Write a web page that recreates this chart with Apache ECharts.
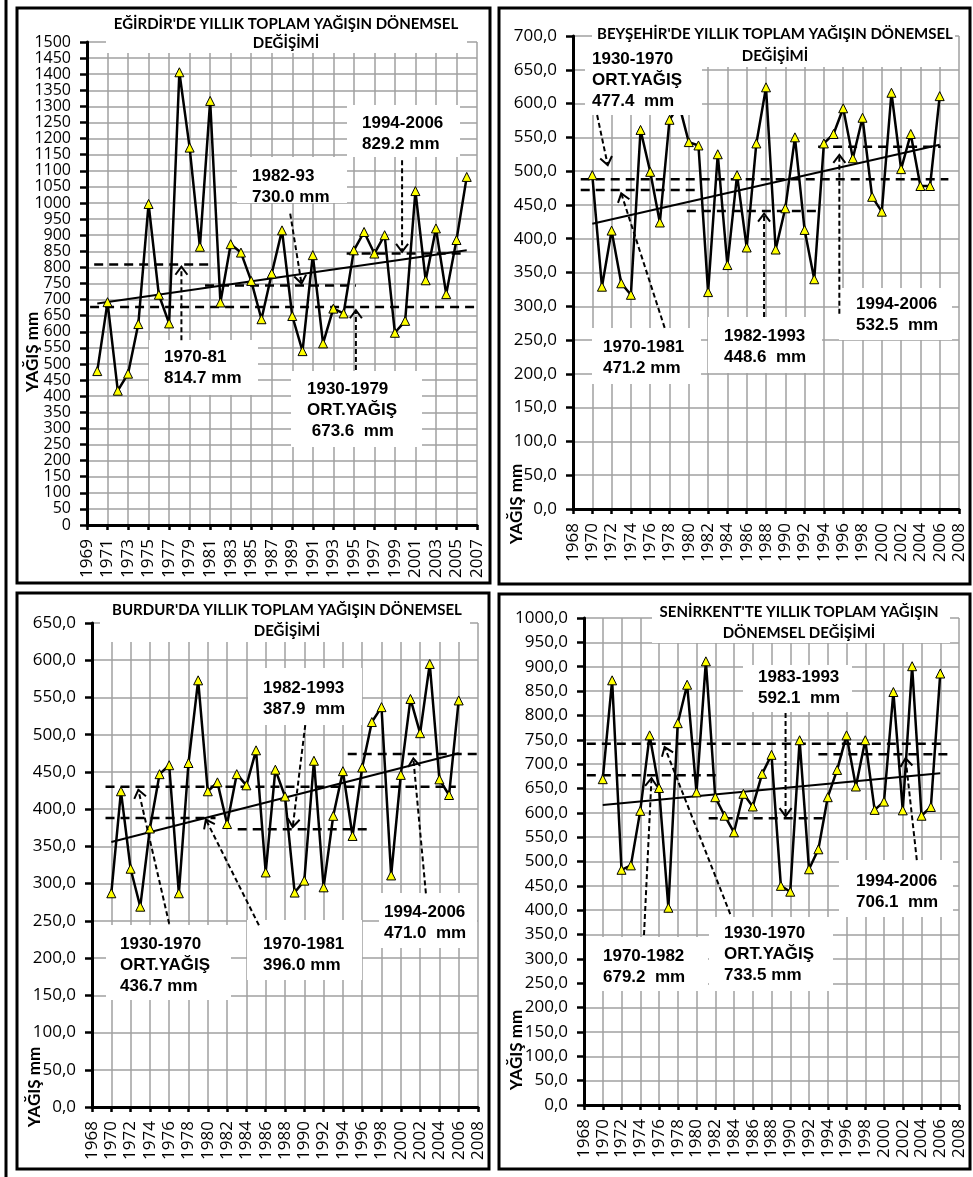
<!DOCTYPE html>
<html><head><meta charset="utf-8">
<script src="https://cdn.jsdelivr.net/npm/echarts@6/dist/echarts.min.js"></script>
<style>html,body{margin:0;padding:0;background:#fff}#c{width:973px;height:1177px}</style>
</head><body><div id="c"></div>
<script>
// ---------------- DATA ----------------
const years = [1970,1971,1972,1973,1974,1975,1976,1977,1978,1979,1980,1981,1982,1983,1984,1985,1986,1987,1988,1989,1990,1991,1992,1993,1994,1995,1996,1997,1998,1999,2000,2001,2002,2003,2004,2005,2006];

const egirdirValues = [478,692,417,470,624,997,715,626,1406,1172,864,1317,691,872,846,758,639,781,915,649,540,838,564,672,657,853,910,843,900,597,634,1037,760,921,717,885,1081];
const beysehirValues = [494,329,412,334,317,561,499,424,576,598,543,538,321,525,361,494,387,541,624,384,445,550,413,340,541,555,593,519,579,462,440,616,503,555,478,478,611];
const burdurValues = [287,424,320,269,374,447,459,287,462,573,424,436,380,447,432,479,315,453,417,288,304,465,295,391,451,364,456,517,537,311,446,548,502,595,440,419,546];
const senirkentValues = [669,872,483,492,604,759,651,405,784,863,642,911,632,594,560,639,613,680,719,450,438,749,484,525,632,688,759,654,749,606,623,848,605,901,594,612,886];

// trend lines [year, value] at both ends
const egirdirTrend = [[1970,688],[2006,853]];
const beysehirTrend = [[1970,422],[2006,539]];
const burdurTrend = [[1970,356],[2006,475]];
const senirkentTrend = [[1970,616],[2006,681]];

// period mean dashed lines: [fromYear, toYear, level]
const egirdirMeans = [[1969.3,2007,677],[1969.7,1981.4,809],[1980.5,1995.2,744],[1994.3,2005.9,843]];
const beysehirMeans = [[1968.8,2006.9,488],[1968.8,1980.8,472],[1979.8,1993.4,441],[1993.4,2006.1,536]];
const burdurMeans = [[1969.4,2005.7,430],[1969.4,1980.8,388],[1983.1,1996.7,373],[1994.5,2008,474]];
const senirkentMeans = [[1968.3,2006.7,742],[1968.3,1982.3,677],[1981.3,1994.1,589],[1993,2007.1,720]];

// annotation arrows: [tailYear, tailValue, headYear, headValue]
const egirdirArrows = [[1978.2,574,1978.2,802],[1988.8,967,1989.9,750],[1999.7,1133,1999.7,848],[1995.2,481,1995.2,667]];
const beysehirArrows = [[1970.5,583,1971.6,509],[1977.5,268,1973.0,467],[1987.8,284,1987.8,437],[1995.6,289,1995.6,524]];
const burdurArrows = [[1976.0,246,1972.8,426],[1985.3,244,1979.8,386],[1990.1,513,1988.8,376],[2002.6,287,2001.3,468]];
const senirkentArrows = [[1974.4,349,1975.2,671],[1983.6,392,1976.6,735],[1989.5,805,1989.5,593],[2003.5,503,2002.3,712]];

// texts
const titles = [
  ["EĞİRDİR'DE YILLIK TOPLAM YAĞIŞIN DÖNEMSEL","DEĞİŞİMİ"],
  ["BEYŞEHİR'DE YILLIK TOPLAM YAĞIŞIN DÖNEMSEL","DEĞİŞİMİ"],
  ["BURDUR'DA YILLIK TOPLAM YAĞIŞIN DÖNEMSEL","DEĞİŞİMİ"],
  ["SENİRKENT'TE YILLIK TOPLAM YAĞIŞIN","DÖNEMSEL DEĞİŞİMİ"]
];
const yAxisName = "YAĞIŞ mm";
const egirdirNotes = [["1994-2006","829.2 mm"],["1982-93","730.0 mm"],["1970-81","814.7 mm"],["1930-1979","ORT.YAĞIŞ"," 673.6  mm"]];
const beysehirNotes = [["1930-1970","ORT.YAĞIŞ","477.4  mm"],["1970-1981","471.2 mm"],["1982-1993","448.6  mm"],["1994-2006","532.5  mm"]];
const burdurNotes = [["1930-1970","ORT.YAĞIŞ","436.7 mm"],["1970-1981","396.0 mm"],["1982-1993","387.9  mm"],["1994-2006","471.0  mm"]];
const senirkentNotes = [["1983-1993","592.1  mm"],["1994-2006","706.1  mm"],["1970-1982","679.2  mm"],["1930-1970","ORT.YAĞIŞ","733.5 mm"]];

// ---------------- LAYOUT ----------------
const grids = [
  {left:87, top:42, width:390, height:483},
  {left:573, top:36, width:386, height:473},
  {left:92, top:623, width:386, height:484},
  {left:584, top:618, width:375, height:487}
];
const xExt = [[1969,2007],[1968,2008],[1968,2008],[1968,2008]];
const yExt = [[0,1500],[0,700],[0,650],[0,1000]];
const yLabelSize = [16,17,17,17];
const panelRects = [[17,8,473,575],[499,8,471,576],[17,593,472,576],[499,594,471,575]];
const titleBoxes = [[106,12,361,41],[592,22,363,45],[100,599,370,43],[652,600,298,43]];
const titleCenters = [[286,24,43],[775,34,56],[287,610,631],[799,612,633]];
const axisNamePos = [[33,352],[517,504],[35,1087],[517,1050]];
// note boxes: [x,y,w,h,textX,firstLineY]
const noteBoxes = [
  [[347,105,113,52,362,123],[237,157,110,46,252,176],[149,340,109,55,164,357],[291,371,131,76,307,389]],
  [[585,45,117,70,592,59],[592,328,109,56,603,347],[708,317,114,56,724,336],[839,288,113,52,856,304]],
  [[106,925,125,75,120,944],[247,920,115,60,263,944],[248,668,114,57,263,688],[379,893,98,55,384,912]],
  [[743,665,109,47,758,677],[839,860,114,57,856,881],[586,937,122,54,603,956],[709,917,124,74,724,933]]
];

const allValues = [egirdirValues, beysehirValues, burdurValues, senirkentValues];
const allTrends = [egirdirTrend, beysehirTrend, burdurTrend, senirkentTrend];
const allMeans = [egirdirMeans, beysehirMeans, burdurMeans, senirkentMeans];
const allArrows = [egirdirArrows, beysehirArrows, burdurArrows, senirkentArrows];
const allNotes = [egirdirNotes, beysehirNotes, burdurNotes, senirkentNotes];

const AXIS_FONT = 'Open Sans';
const GRID_COLOR = '#a0a0a0';

const chart = echarts.init(document.getElementById('c'), null, {renderer:'canvas'});

const xAxes = [], yAxes = [], series = [];
for (let i = 0; i < 4; i++) {
  xAxes.push({
    gridIndex:i, type:'value', min:xExt[i][0], max:xExt[i][1], interval:2,
    axisLine:{lineStyle:{color:'#000', width:3}},
    axisTick:{show:true, length:5, lineStyle:{color:'#000', width:2.5}},
    axisLabel:{rotate:90, margin:14, color:'#000', fontFamily:AXIS_FONT, fontSize:17,
      showMinLabel:true, showMaxLabel:true, hideOverlap:false, formatter:v=>String(v)},
    splitLine:{show:true, lineStyle:{color:GRID_COLOR, width:1.5}}
  });
  yAxes.push({
    gridIndex:i, type:'value', min:yExt[i][0], max:yExt[i][1], interval:50,
    axisLine:{show:true, lineStyle:{color:'#000', width:3}},
    axisTick:{show:true, length:7, lineStyle:{color:'#000', width:2.5}},
    axisLabel:{margin:16, color:'#000', fontFamily:AXIS_FONT, fontSize:yLabelSize[i], lineHeight:14,
      showMinLabel:true, showMaxLabel:true, hideOverlap:false,
      formatter: i === 0 ? (v=>String(v)) : (v=>v.toFixed(1).replace('.', ','))},
    splitLine:{show:true, lineStyle:{color:GRID_COLOR, width:1.5}}
  });
  series.push({
    type:'line', xAxisIndex:i, yAxisIndex:i, z:4,
    data: years.map((y,k)=>[y, allValues[i][k]]),
    symbol:'triangle', symbolSize:9,
    itemStyle:{color:'#ffff00', borderColor:'#000', borderWidth:1},
    lineStyle:{color:'#000', width:2.5}
  });
  series.push({
    type:'line', xAxisIndex:i, yAxisIndex:i, z:3, data: allTrends[i], symbol:'none',
    lineStyle:{color:'#000', width:2}
  });
  allMeans[i].forEach(m => series.push({
    type:'line', xAxisIndex:i, yAxisIndex:i, z:3, symbol:'none',
    data:[[m[0], m[2]],[m[1], m[2]]],
    lineStyle:{color:'#000', width:2.5, type:[9,6]}
  }));
}

chart.setOption({
  animation:false,
  grid: grids,
  xAxis: xAxes,
  yAxis: yAxes,
  series: series
});

// ---------------- GRAPHICS ----------------
const g = [];
g.push({type:'line', z:10, shape:{x1:6,y1:0,x2:6,y2:1177}, style:{stroke:'#000', lineWidth:3}});
for (let i = 0; i < 4; i++) {
  const r = panelRects[i];
  g.push({type:'rect', z:10, shape:{x:r[0],y:r[1],width:r[2],height:r[3]}, style:{fill:'none', stroke:'#000', lineWidth:3}});
  const tb = titleBoxes[i];
  g.push({type:'rect', z:1, shape:{x:tb[0],y:tb[1],width:tb[2],height:tb[3]}, style:{fill:'#fff'}});
  const tc = titleCenters[i];
  g.push({type:'text', z:2, style:{text:titles[i][0], x:tc[0], y:tc[1], textAlign:'center', textVerticalAlign:'middle', font:'bold 15px Lato', fill:'#000'}});
  g.push({type:'text', z:2, style:{text:titles[i][1], x:tc[0], y:tc[2], textAlign:'center', textVerticalAlign:'middle', font:'bold 15px Lato', fill:'#000'}});
  const an = axisNamePos[i];
  g.push({type:'text', z:8, x:an[0], y:an[1], rotation:Math.PI/2,
    style:{text:yAxisName, x:0, y:0, textAlign:'center', textVerticalAlign:'middle', font:'bold 17px Lato', fill:'#000'}});
  noteBoxes[i].forEach((b, k) => {
    g.push({type:'rect', z:6, shape:{x:b[0],y:b[1],width:b[2],height:b[3]}, style:{fill:'#fff'}});
    allNotes[i][k].forEach((line, li) => {
      g.push({type:'text', z:7, style:{text:line, x:b[4], y:b[5] + li*21, textAlign:'left', textVerticalAlign:'middle', font:'bold 17px "Liberation Sans"', fill:'#000'}});
    });
  });
  allArrows[i].forEach(a => {
    const p1 = chart.convertToPixel({gridIndex:i}, [a[0], a[1]]);
    const p2 = chart.convertToPixel({gridIndex:i}, [a[2], a[3]]);
    const dx = p2[0]-p1[0], dy = p2[1]-p1[1];
    const len = Math.sqrt(dx*dx+dy*dy);
    const ux = dx/len, uy = dy/len, nx = -uy, ny = ux;
    const L = 8, W = 6;
    g.push({type:'line', z:8, shape:{x1:p1[0],y1:p1[1],x2:p2[0],y2:p2[1]}, style:{stroke:'#000', lineWidth:2, lineDash:[5,3]}});
    g.push({type:'polyline', z:8, shape:{points:[[p2[0]-ux*L+nx*W, p2[1]-uy*L+ny*W],[p2[0],p2[1]],[p2[0]-ux*L-nx*W, p2[1]-uy*L-ny*W]]}, style:{stroke:'#000', lineWidth:2, fill:null}});
  });
}
chart.setOption({graphic: g});
</script>
</body></html>
